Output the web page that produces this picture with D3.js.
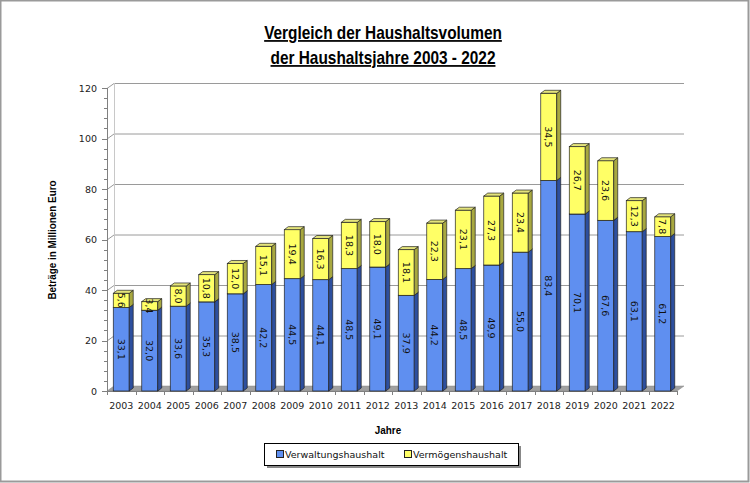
<!DOCTYPE html>
<html>
<head>
<meta charset="utf-8">
<script src="https://cdn.jsdelivr.net/npm/d3@7/dist/d3.min.js"></script>
<style>
  body { margin: 0; background: #fff; }
  svg { display: block; }
</style>
</head>
<body>
<div id="chart"></div>
<script>
var years = ["2003","2004","2005","2006","2007","2008","2009","2010","2011","2012",
  "2013","2014","2015","2016","2017","2018","2019","2020","2021","2022"];
var verwaltung = [33.1, 32.0, 33.6, 35.3, 38.5, 42.2, 44.5, 44.1, 48.5, 49.1,
  37.9, 44.2, 48.5, 49.9, 55.0, 83.4, 70.1, 67.6, 63.1, 61.2];
var vermoegen = [5.6, 3.4, 8.0, 10.8, 12.0, 15.1, 19.4, 16.3, 18.3, 18.0,
  18.1, 22.3, 23.1, 27.3, 23.4, 34.5, 26.7, 23.6, 12.3, 7.8];
var yTicks = [0, 20, 40, 60, 80, 100, 120];
var seriesNames = ["Verwaltungshaushalt", "Vermögenshaushalt"];

var width = 750, height = 483;
var x0 = 107, x1 = 677, yBase = 391, yTop = 88;
var wallDx = 7, wallDy = -5;
var barDx = 4, barDy = -3;

var colors = [
  { front: "#5f8ff0", side: "#2d4f9e", top: "#86a8f0" },
  { front: "#ffff66", side: "#a8a840", top: "#e4e47a" }
];

var fmt = function(v) { return d3.format(".1f")(v).replace(".", ","); };
var narrow = "'Liberation Sans Narrow', 'Arial Narrow', 'Liberation Sans', sans-serif";

var svg = d3.select("#chart").append("svg")
  .attr("width", width)
  .attr("height", height);

// outer border
svg.append("rect")
  .attr("x", 0.5).attr("y", 0.5)
  .attr("width", width - 2).attr("height", height - 2)
  .attr("fill", "#fff")
  .attr("stroke", "#9a9a9a")
  .attr("stroke-width", 2);

var x = d3.scaleBand().domain(years).range([x0, x1]).paddingInner(0.44).paddingOuter(0.22);
var y = d3.scaleLinear().domain([0, 120]).range([yBase, yTop]);

// title (squeezed to mimic the condensed face)
var title = svg.append("g")
  .attr("transform", "translate(383,0) scale(0.88,1)")
  .attr("font-family", narrow)
  .attr("font-weight", "bold")
  .attr("font-size", 17.5)
  .attr("text-anchor", "middle")
  .attr("text-decoration", "underline")
  .attr("fill", "#000");
title.append("text").attr("x", 0).attr("y", 39).text("Vergleich der Haushaltsvolumen");
title.append("text").attr("x", 0).attr("y", 64).text("der Haushaltsjahre 2003 - 2022");

// floor
svg.append("path")
  .attr("d", "M" + x0 + "," + yBase + "L" + x1 + "," + yBase +
    "L" + (x1 + wallDx) + "," + (yBase + wallDy) + "L" + (x0 + wallDx) + "," + (yBase + wallDy) + "Z")
  .attr("fill", "#a0a0a0")
  .attr("stroke", "#888")
  .attr("stroke-width", 0.5);

// gridlines on back wall and left wall
var grid = svg.append("g").attr("stroke", "#9a9a9a").attr("fill", "none").attr("stroke-width", 1);
yTicks.forEach(function(t) {
  if (t === 0) return;
  grid.append("path")
    .attr("d", "M" + x0 + "," + (y(t) + 0.5) + "L" + (x0 + wallDx) + "," + (y(t) + wallDy + 0.5) +
      "L" + (x1 + wallDx) + "," + (y(t) + wallDy + 0.5));
});
grid.append("line")
  .attr("x1", x0 + wallDx + 0.5).attr("x2", x0 + wallDx + 0.5)
  .attr("y1", y(0) + wallDy).attr("y2", y(120) + wallDy)
  .attr("stroke", "#c8c8c8");

// y axis
var yAxis = svg.append("g");
yAxis.append("line")
  .attr("x1", x0 + 0.5).attr("x2", x0 + 0.5)
  .attr("y1", y(0)).attr("y2", y(120))
  .attr("stroke", "#808080");
d3.range(0, 121, 4).forEach(function(t) {
  var major = t % 20 === 0;
  yAxis.append("line")
    .attr("x1", x0 - (major ? 5 : 3)).attr("x2", x0)
    .attr("y1", Math.round(y(t)) + 0.5).attr("y2", Math.round(y(t)) + 0.5)
    .attr("stroke", "#808080");
});
yAxis.selectAll("text.tick")
  .data(yTicks)
  .enter().append("text")
  .attr("class", "tick")
  .attr("x", x0 - 10)
  .attr("y", function(d) { return y(d) + 3.5; })
  .attr("text-anchor", "end")
  .attr("font-family", "'DejaVu Sans', Verdana, sans-serif")
  .attr("font-size", 9.5)
  .attr("fill", "#222")
  .text(function(d) { return d; });

svg.append("text")
  .attr("transform", "translate(56,240) rotate(-90) scale(0.9,1)")
  .attr("text-anchor", "middle")
  .attr("font-family", narrow)
  .attr("font-weight", "bold")
  .attr("font-size", 11)
  .text("Beträge in Millionen Euro");

// x axis
var xAxis = svg.append("g");
xAxis.append("line")
  .attr("x1", x0).attr("x2", x1)
  .attr("y1", yBase + 0.5).attr("y2", yBase + 0.5)
  .attr("stroke", "#808080");
years.forEach(function(yr, i) {
  var xs = x0 + i * x.step();
  xAxis.append("line")
    .attr("x1", Math.round(xs) + 0.5).attr("x2", Math.round(xs) + 0.5)
    .attr("y1", yBase).attr("y2", yBase + 4)
    .attr("stroke", "#808080");
});
xAxis.append("line")
  .attr("x1", x1 + 0.5).attr("x2", x1 + 0.5)
  .attr("y1", yBase).attr("y2", yBase + 4)
  .attr("stroke", "#808080");
xAxis.selectAll("text")
  .data(years)
  .enter().append("text")
  .attr("x", function(d) { return x(d) + x.bandwidth() / 2; })
  .attr("y", 409)
  .attr("text-anchor", "middle")
  .attr("font-family", "'DejaVu Sans', Verdana, sans-serif")
  .attr("font-size", 9.5)
  .attr("fill", "#222")
  .text(function(d) { return d; });

svg.append("text")
  .attr("transform", "translate(388,434) scale(0.9,1)")
  .attr("text-anchor", "middle")
  .attr("font-family", narrow)
  .attr("font-weight", "bold")
  .attr("font-size", 11)
  .text("Jahre");

// bars (3D boxes)
var bars = svg.append("g");
function box(g, xl, yT, yB, w, c) {
  g.append("rect")
    .attr("x", xl).attr("y", yT)
    .attr("width", w).attr("height", yB - yT)
    .attr("fill", c.front).attr("stroke", "#222").attr("stroke-width", 0.7);
  g.append("path")
    .attr("d", "M" + (xl + w) + "," + yB + "L" + (xl + w + barDx) + "," + (yB + barDy) +
      "L" + (xl + w + barDx) + "," + (yT + barDy) + "L" + (xl + w) + "," + yT + "Z")
    .attr("fill", c.side).attr("stroke", "#222").attr("stroke-width", 0.7);
  g.append("path")
    .attr("d", "M" + xl + "," + yT + "L" + (xl + barDx) + "," + (yT + barDy) +
      "L" + (xl + w + barDx) + "," + (yT + barDy) + "L" + (xl + w) + "," + yT + "Z")
    .attr("fill", c.top).attr("stroke", "#222").attr("stroke-width", 0.7);
}

years.forEach(function(yr, i) {
  var g = bars.append("g");
  var xl = x(yr), w = x.bandwidth();
  var v1 = verwaltung[i], v2 = vermoegen[i];
  box(g, xl, y(v1), y(0), w, colors[0]);
  box(g, xl, y(v1 + v2), y(v1), w, colors[1]);

  [[v1, (y(0) + y(v1)) / 2], [v2, (y(v1) + y(v1 + v2)) / 2]].forEach(function(p) {
    g.append("text")
      .attr("transform", "translate(" + (xl + w / 2) + "," + p[1] + ") rotate(90)")
      .attr("text-anchor", "middle")
      .attr("dy", "0.35em")
      .attr("font-family", "'DejaVu Sans', Verdana, sans-serif")
      .attr("font-size", 9.5)
      .attr("fill", "#111")
      .text(fmt(p[0]));
  });
});

// legend
var lg = svg.append("g").attr("transform", "translate(264,443)");
lg.append("rect").attr("x", 3).attr("y", 3).attr("width", 254).attr("height", 22).attr("fill", "#888");
lg.append("rect").attr("x", 0.5).attr("y", 0.5).attr("width", 254).attr("height", 22)
  .attr("fill", "#fff").attr("stroke", "#000");
var items = lg.selectAll("g.item")
  .data(seriesNames)
  .enter().append("g")
  .attr("transform", function(d, i) { return "translate(" + (12 + i * 128) + ",0)"; });
items.append("rect")
  .attr("x", 0.5).attr("y", 7.5).attr("width", 7).attr("height", 7)
  .attr("fill", function(d, i) { return colors[i].front; })
  .attr("stroke", "#222");
items.append("text")
  .attr("x", 9).attr("y", 15)
  .attr("font-family", "'DejaVu Sans', Verdana, sans-serif")
  .attr("font-size", 9.5)
  .attr("fill", "#111")
  .text(function(d) { return d; });
</script>
</body>
</html>
